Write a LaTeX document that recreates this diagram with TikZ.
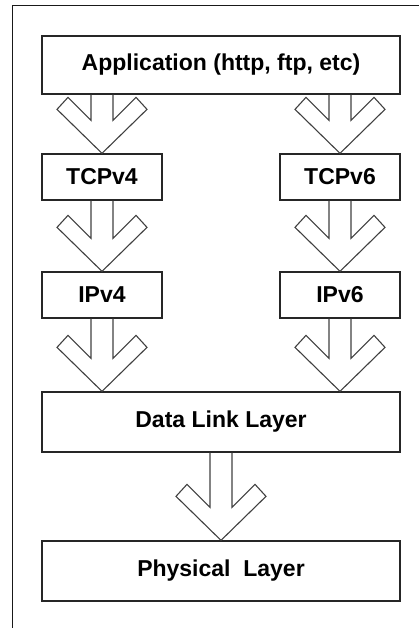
\documentclass[tikz,border=0pt]{standalone}
\usepackage{fontspec}
\setmainfont{Liberation Sans}
\usetikzlibrary{calc}

% hollow block arrow pointing down: #1 = top of the shaft, #2 = tip
\newcommand\hollowdown[2]{%
  \draw[arrowline] let \p1=(#1), \p2=(#2) in
    (\x2-11pt,\y1) -- (\x2-11pt,\y2+33pt) -- (\x2-34pt,\y2+56pt)
    -- (\x2-45pt,\y2+44pt) -- (\x2,\y2) -- (\x2+45pt,\y2+44pt)
    -- (\x2+34pt,\y2+56pt) -- (\x2+11pt,\y2+33pt) -- (\x2+11pt,\y1);}

\begin{document}
\begin{tikzpicture}[x=1pt,y=-1pt,
  layer/.style={draw=black!85, line width=1.3pt, fill=white, inner sep=0pt,
    font=\fontsize{23}{27}\selectfont\bfseries},
  widebox/.style={layer, minimum width=358pt},
  smallbox/.style={layer, minimum width=120pt, minimum height=46pt},
  arrowline/.style={draw=black!75, line width=1.1pt, line join=miter},
  frameline/.style={draw=black!90, line width=1.2pt}]
\useasboundingbox (0,0) rectangle (419,628);

% outer frame
\draw[frameline] (12.7,632) -- (12.7,5.5) -- (425,5.5);

% protocol layers
\node[widebox, minimum height=58pt] (app) at (221,65) {Application (http, ftp, etc)};
\node[smallbox] (tcp4) at (102,177) {TCPv4};
\node[smallbox] (tcp6) at (340,177) {TCPv6};
\node[smallbox] (ip4) at (102,295) {IPv4};
\node[smallbox] (ip6) at (340,295) {IPv6};
\node[widebox, minimum height=60pt] (dl) at (221,422) {Data Link Layer};
\node[widebox, minimum height=60pt] (phy) at (221,571) {Physical\ \ Layer};

% data flow between layers
\hollowdown{app.south -| tcp4.north}{tcp4.north}
\hollowdown{app.south -| tcp6.north}{tcp6.north}
\hollowdown{tcp4.south}{ip4.north}
\hollowdown{tcp6.south}{ip6.north}
\hollowdown{ip4.south}{dl.north -| ip4.south}
\hollowdown{ip6.south}{dl.north -| ip6.south}
\hollowdown{dl.south}{phy.north}
\end{tikzpicture}
\end{document}
